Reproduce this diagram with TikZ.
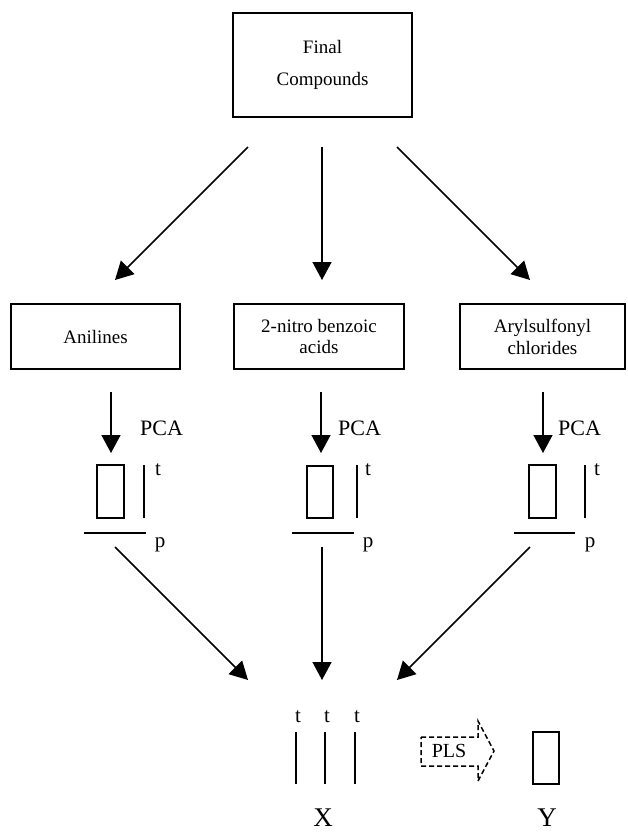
\documentclass[tikz,border=0pt]{standalone}
\usepackage{fontspec}
\setmainfont{Liberation Serif}
\usetikzlibrary{arrows.meta}
\tikzset{
  box/.style={draw, line width=1.6pt, rectangle, inner sep=0pt, align=center, font=\fontsize{19}{21}\selectfont},
  arr/.style={line width=1.5pt, -{Triangle[width=19pt,length=18pt]}},
  thin/.style={line width=1.5pt},
  lab/.style={inner sep=0pt, font=\fontsize{22}{24}\selectfont},
  small/.style={inner sep=0pt, font=\fontsize{21}{23}\selectfont},
  big/.style={inner sep=0pt, font=\fontsize{27}{29}\selectfont},
  dbox/.style={draw, line width=1.5pt, dash pattern=on 5pt off 3pt},
}
\begin{document}
\begin{tikzpicture}[x=1pt,y=-1pt]
\useasboundingbox (0,0) rectangle (627,833);
% top box
\node[box, minimum width=179pt, minimum height=104pt, font=\fontsize{19}{32}\selectfont] (final) at (322.5,65) {Final\\Compounds};
% middle boxes
\node[box, minimum width=169pt, minimum height=65pt] (anil) at (95.5,336.5) {Anilines};
\node[box, minimum width=170pt, minimum height=65pt] (nitro) at (319,336.5) {2-nitro benzoic\\acids};
\node[box, minimum width=165pt, minimum height=65pt, font=\fontsize{19}{22}\selectfont] (aryl) at (542.5,336.5) {Arylsulfonyl\\chlorides};
% top arrows
\coordinate (fL) at (248,147); \coordinate (fM) at (322,147); \coordinate (fR) at (397,147);
\coordinate (tL) at (115,280); \coordinate (tM) at (322,280); \coordinate (tR) at (530,280);
\draw[arr] (fL) -- (tL);
\draw[arr] (fM) -- (tM);
\draw[arr] (fR) -- (tR);
% PCA arrows
\coordinate (pL1) at (111,392); \coordinate (pL2) at (111,453);
\coordinate (pM1) at (321,392); \coordinate (pM2) at (321,453);
\coordinate (pR1) at (543,392); \coordinate (pR2) at (543,453);
\draw[arr] (pL1) -- (pL2);
\draw[arr] (pM1) -- (pM2);
\draw[arr] (pR1) -- (pR2);
\node[lab, anchor=west] (pcaL) at (140,428) {PCA};
\node[lab, anchor=west] (pcaM) at (338,428) {PCA};
\node[lab, anchor=west] (pcaR) at (558,428) {PCA};
% score/loading plots
\draw[thin] (97,465) rectangle (124,518);
\draw[thin] (307,466) rectangle (333,518);
\draw[thin] (529,465) rectangle (556,518);
\draw[thin] (144,465) -- (144,518);
\draw[thin] (357,465) -- (357,518);
\draw[thin] (585,465) -- (585,518);
\node[small] (tL1) at (158,470) {t};
\node[small] (tM1) at (368,470) {t};
\node[small] (tR1) at (597,470) {t};
\draw[thin] (84,533) -- (146,533);
\draw[thin] (292,533) -- (354,533);
\draw[thin] (514,533) -- (575,533);
\node[small, anchor=base] (pLl) at (160,547) {p};
\node[small, anchor=base] (pMl) at (368,547) {p};
\node[small, anchor=base] (pRl) at (590,547) {p};
% bottom arrows
\coordinate (bL1) at (115,547); \coordinate (bM1) at (322,547); \coordinate (bR1) at (530,547);
\coordinate (bL2) at (248,680); \coordinate (bM2) at (322,680); \coordinate (bR2) at (397,680);
\draw[arr] (bL1) -- (bL2);
\draw[arr] (bM1) -- (bM2);
\draw[arr] (bR1) -- (bR2);
% X block
\draw[thin] (296,732) -- (296,784);
\draw[thin] (325,732) -- (325,784);
\draw[thin] (355,732) -- (355,784);
\node[small] (tx1) at (298,717) {t};
\node[small] (tx2) at (327,717) {t};
\node[small] (tx3) at (357,717) {t};
% PLS dashed arrow
\draw[dbox] (421,737) -- (478,737) -- (478,721) -- (494,751) -- (478,781) -- (478,766) -- (421,766) -- cycle;
\node[inner sep=0pt, font=\fontsize{20}{22}\selectfont] (pls) at (449,751) {PLS};
% Y block
\draw[thin] (533,732) rectangle (559,784);
\node[big, anchor=base] (X) at (323,826) {X};
\node[big, anchor=base] (Y) at (547,826) {Y};
\end{tikzpicture}
\end{document}
